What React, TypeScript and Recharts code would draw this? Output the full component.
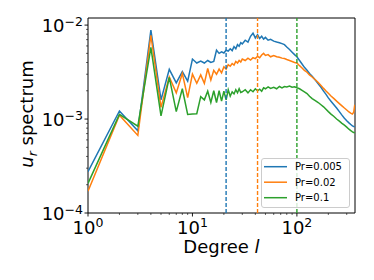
import React from 'react';
import { LineChart, Line, XAxis, YAxis, ReferenceLine, ReferenceArea, Legend } from 'recharts';

const degrees = [1,2,3,4,5,6,7,8,9,10,11,12,13,14,15,16,17,18,19,20,21,22,23,24,25,26,27,28,29,30,32,34,36,38,40,42,44,46,48,50,53,56,60,64,68,72,76,80,85,90,95,100,106,112,118,125,132,140,150,160,170,180,190,200,212,225,240,255,270,285,300,315,330,340,350,358];

const pr0005 = [
  2.75e-4, 1.22e-3, 7.5e-4, 8.85e-3, 1.6e-3, 3.38e-3, 2.43e-3, 3.2e-3, 2.53e-3, 4.35e-3,
  3.95e-3, 4.15e-3, 3.95e-3, 4.2e-3, 4.0e-3, 4.1e-3, 5.4e-3, 5.0e-3, 5.2e-3, 5.05e-3,
  5.4e-3, 5.3e-3, 5.6e-3, 5.35e-3, 5.9e-3, 5.6e-3, 6.2e-3, 5.95e-3, 6.5e-3, 6.3e-3,
  6.9e-3, 6.6e-3, 7.6e-3, 8.2e-3, 7.3e-3, 7.9e-3, 7.2e-3, 7.6e-3, 7.1e-3, 7.4e-3,
  6.9e-3, 7.05e-3, 6.75e-3, 6.6e-3, 6.5e-3, 6.35e-3, 6.2e-3, 5.85e-3, 5.5e-3, 5.15e-3, 4.85e-3, 4.6e-3,
  4.2e-3, 3.85e-3, 3.55e-3, 3.3e-3, 3.05e-3, 2.85e-3, 2.6e-3, 2.38e-3, 2.18e-3, 1.98e-3, 1.83e-3, 1.68e-3,
  1.55e-3, 1.43e-3, 1.31e-3, 1.2e-3, 1.1e-3, 1.02e-3, 9.6e-4, 9.1e-4, 8.7e-4, 8.45e-4, 8.35e-4, 8.3e-4,
];

const pr002 = [
  1.71e-4, 1.1e-3, 6.7e-4, 7.8e-3, 1.33e-3, 2.8e-3, 1.9e-3, 3.06e-3, 1.69e-3, 3.0e-3,
  2.4e-3, 2.95e-3, 2.4e-3, 3.45e-3, 2.6e-3, 3.3e-3, 3.0e-3, 3.4e-3, 3.1e-3, 3.6e-3,
  3.4e-3, 3.8e-3, 3.65e-3, 3.9e-3, 3.75e-3, 4.1e-3, 3.95e-3, 4.2e-3, 4.05e-3, 4.35e-3,
  4.2e-3, 4.45e-3, 4.25e-3, 4.5e-3, 4.4e-3, 4.65e-3, 4.5e-3, 4.8e-3, 5.0e-3, 4.75e-3,
  4.85e-3, 4.6e-3, 4.75e-3, 4.6e-3, 4.55e-3, 4.45e-3, 4.4e-3, 4.3e-3, 4.2e-3, 4.1e-3, 4.0e-3, 3.95e-3,
  3.7e-3, 3.5e-3, 3.3e-3, 3.15e-3, 2.95e-3, 2.8e-3, 2.62e-3, 2.45e-3, 2.28e-3, 2.12e-3, 1.99e-3, 1.88e-3,
  1.76e-3, 1.66e-3, 1.55e-3, 1.46e-3, 1.38e-3, 1.31e-3, 1.25e-3, 1.19e-3, 1.15e-3, 1.13e-3, 1.18e-3, 1.42e-3,
];

const pr01 = [
  2.07e-4, 1.12e-3, 8.4e-4, 5.8e-3, 1.08e-3, 2.78e-3, 1.2e-3, 2.1e-3, 1.12e-3, 1.13e-3,
  1.14e-3, 1.73e-3, 1.6e-3, 1.98e-3, 1.5e-3, 2.0e-3, 1.5e-3, 2.0e-3, 1.55e-3, 1.98e-3,
  1.6e-3, 2.05e-3, 1.75e-3, 1.95e-3, 1.85e-3, 2.05e-3, 1.9e-3, 2.1e-3, 1.92e-3, 1.95e-3,
  2.05e-3, 1.9e-3, 2.05e-3, 1.95e-3, 2.1e-3, 2.0e-3, 2.08e-3, 1.98e-3, 2.15e-3, 2.1e-3,
  2.2e-3, 2.12e-3, 2.18e-3, 2.1e-3, 2.22e-3, 2.15e-3, 2.22e-3, 2.2e-3, 2.25e-3, 2.18e-3, 2.2e-3, 2.15e-3,
  2.1e-3, 2.02e-3, 1.95e-3, 1.87e-3, 1.75e-3, 1.65e-3, 1.57e-3, 1.5e-3, 1.42e-3, 1.35e-3, 1.27e-3, 1.2e-3,
  1.13e-3, 1.07e-3, 1.0e-3, 9.5e-4, 9.0e-4, 8.6e-4, 8.2e-4, 7.8e-4, 7.5e-4, 7.3e-4, 7.2e-4, 7.1e-4,
];

const seriesNames = ['Pr=0.005', 'Pr=0.02', 'Pr=0.1'];
const seriesColors = ['#1f77b4', '#ff7f0e', '#2ca02c'];
const cutoffDegrees = [21, 42, 100];

const xTicks = [1,2,3,4,5,6,7,8,9,10,20,30,40,50,60,70,80,90,100,200,300];
const yTicks = [1e-4,2e-4,3e-4,4e-4,5e-4,6e-4,7e-4,8e-4,9e-4,1e-3,2e-3,3e-3,4e-3,5e-3,6e-3,7e-3,8e-3,9e-3,1e-2];

const data = degrees.map((l, i) => ({ l, a: pr0005[i], b: pr002[i], c: pr01[i] }));
const keys = ['a', 'b', 'c'];

const FONT = 'DejaVu Sans';

const isMajor = (v: number) => Math.abs(Math.log10(v) - Math.round(Math.log10(v))) < 1e-6;
const expStr = (v: number) => String(Math.round(Math.log10(v))).replace('-', '\u2212');

const XTick = (props: any) => {
  const { x, y, payload } = props;
  const v = payload.value;
  const major = isMajor(v);
  return (
    <g>
      <line x1={x} x2={x} y1={y} y2={y + (major ? 3.5 : 2)} stroke="#000" strokeWidth={major ? 0.9 : 0.6} />
      {major && (
        <text x={x} y={y + 21} textAnchor="middle" fontSize={18} fontFamily={FONT} fill="#000">
          10<tspan dy={-7} fontSize={12.5}>{expStr(v)}</tspan>
        </text>
      )}
    </g>
  );
};

const YTick = (props: any) => {
  const { x, y, payload } = props;
  const v = payload.value;
  const major = isMajor(v);
  return (
    <g>
      <line x1={x - (major ? 3.5 : 2)} x2={x} y1={y} y2={y} stroke="#000" strokeWidth={major ? 0.9 : 0.6} />
      {major && (
        <text x={x - 5} y={y + 7} textAnchor="end" fontSize={18} fontFamily={FONT} fill="#000">
          10<tspan dy={-6} fontSize={12.5}>{expStr(v)}</tspan>
        </text>
      )}
    </g>
  );
};

const XLabel = () => (
  <text x={221.5} y={253} textAnchor="middle" fontSize={18} fontFamily={FONT} fill="#000">
    Degree <tspan fontStyle="italic">l</tspan>
  </text>
);

const YLabel = () => (
  <text transform="translate(32.5,114) rotate(-90)" textAnchor="middle" fontSize={18} fontFamily={FONT} fill="#000">
    <tspan fontStyle="italic">u</tspan>
    <tspan fontStyle="italic" fontSize={12.5} dy={4}>r</tspan>
    <tspan dy={-4}> spectrum</tspan>
  </text>
);

const LegendBox = () => (
  <svg width={89} height={50} style={{ display: 'block' }}>
    <rect x={0.5} y={0.5} width={88} height={49} rx={2.5} fill="#fff" fillOpacity={0.8} stroke="#cccccc" />
    {seriesNames.map((n, i) => (
      <g key={n}>
        <line x1={3} x2={26} y1={8.7 + i * 15.5} y2={8.7 + i * 15.5} stroke={seriesColors[i]} strokeWidth={1.5} />
        <text x={34} y={12.3 + i * 15.5} fontSize={10} fontFamily={FONT} fill="#000">{n}</text>
      </g>
    ))}
  </svg>
);

export default function App() {
  return (
    <div style={{ position: 'absolute', left: 0, top: 0, width: 374, height: 280, background: '#fff' }}>
      <LineChart width={374} height={280} data={data} margin={{ top: 18, right: 19, bottom: 37, left: 28 }}>
        <XAxis
          dataKey="l"
          type="number"
          scale="log"
          domain={[1, 360]}
          allowDataOverflow
          ticks={xTicks}
          interval={0}
          height={30}
          tickSize={0}
          tickMargin={0}
          tickLine={false}
          axisLine={false}
          tick={(p: any) => <XTick {...p} />}
          label={{ content: () => <XLabel /> }}
        />
        <YAxis
          type="number"
          scale="log"
          domain={[1e-4, 0.0119]}
          allowDataOverflow
          ticks={yTicks}
          interval={0}
          width={60}
          tickSize={0}
          tickMargin={0}
          tickLine={false}
          axisLine={false}
          tick={(p: any) => <YTick {...p} />}
          label={{ content: () => <YLabel /> }}
        />
        {keys.map((k, i) => (
          <Line
            key={k}
            dataKey={k}
            name={seriesNames[i]}
            stroke={seriesColors[i]}
            strokeWidth={1.5}
            dot={false}
            activeDot={false}
            type="linear"
            isAnimationActive={false}
          />
        ))}
        {cutoffDegrees.map((d, i) => (
          <ReferenceLine key={d} x={d} stroke={seriesColors[i]} strokeWidth={1.4} strokeDasharray="4 2" />
        ))}
        <ReferenceArea x1={1} x2={360} y1={1e-4} y2={0.0119} fill="none" stroke="#000" strokeWidth={1} ifOverflow="visible" />
        <Legend
          layout="vertical"
          align="center"
          verticalAlign="middle"
          content={() => <LegendBox />}
          wrapperStyle={{ left: 261, top: 158, width: 89, height: 50 }}
        />
      </LineChart>
    </div>
  );
}
